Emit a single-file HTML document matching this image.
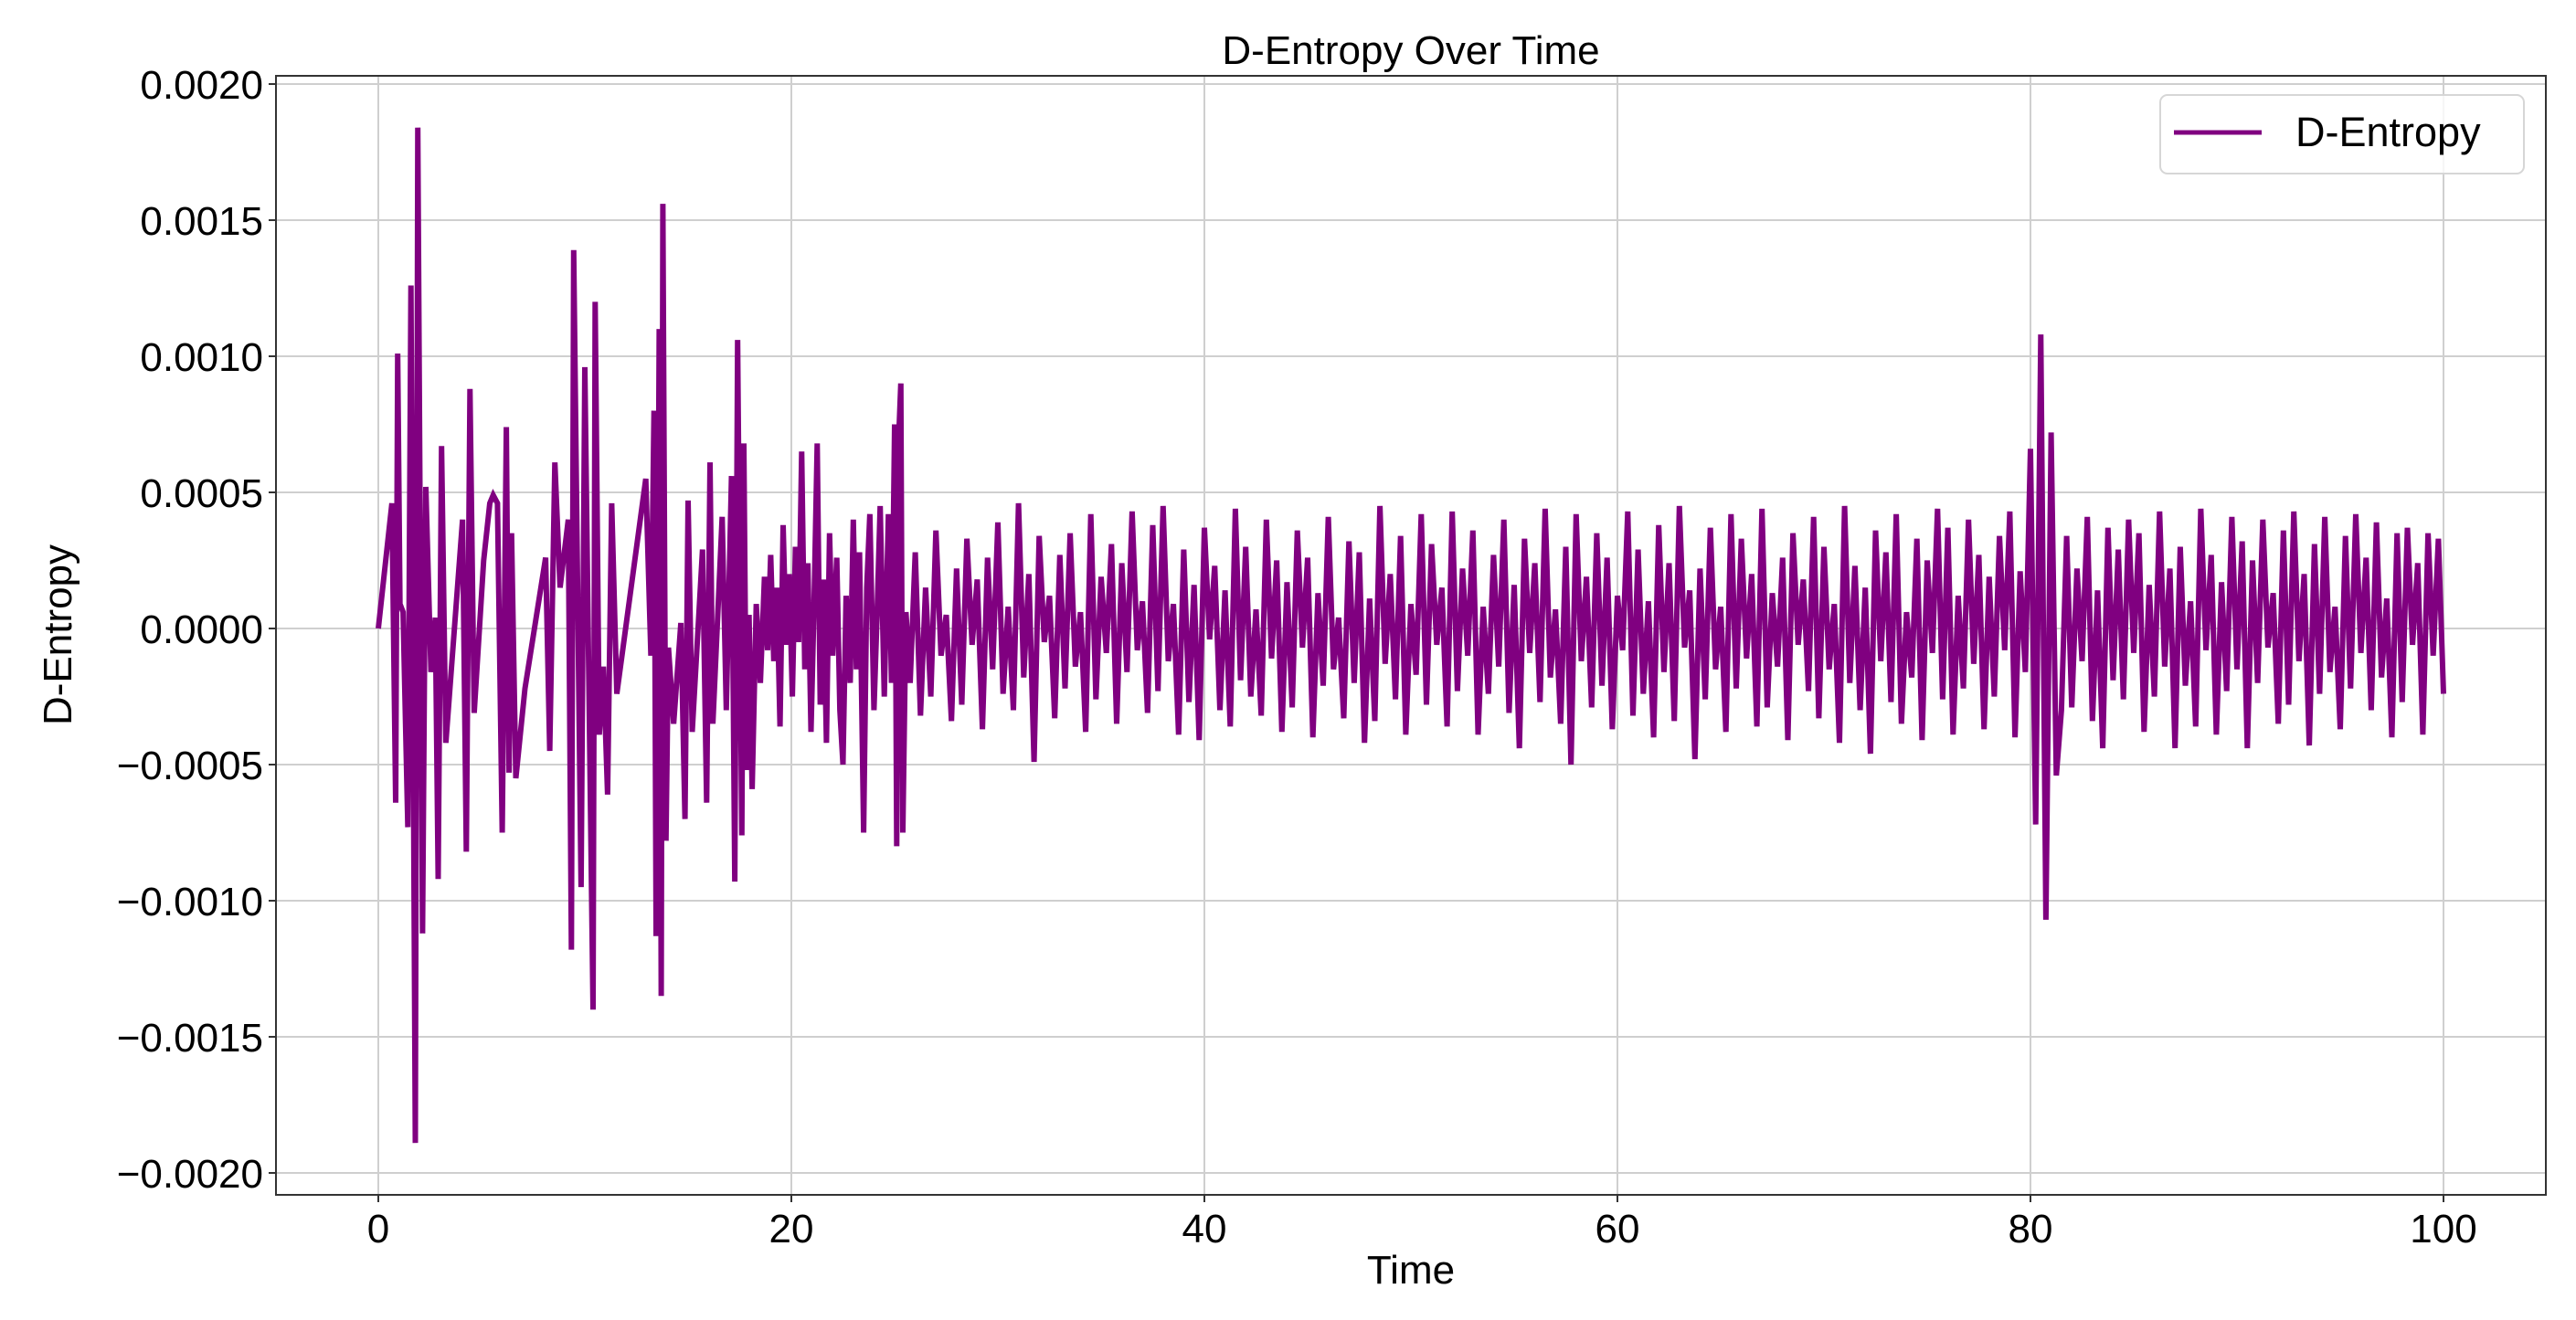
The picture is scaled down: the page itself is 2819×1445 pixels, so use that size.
<!DOCTYPE html>
<html><head><meta charset="utf-8"><style>
html,body{margin:0;padding:0;background:#fff}
svg text{font-family:"Liberation Sans",sans-serif;fill:#000}
</style></head><body>
<svg id="chart" width="2819" height="1440" viewBox="0 0 2819 1440" xmlns="http://www.w3.org/2000/svg">
<rect x="0" y="0" width="2819" height="1440" fill="#fff"/>
<g id="grid"></g>
<g id="series"></g>
<rect x="302" y="83" width="2484" height="1225" fill="none" stroke="#333" stroke-width="2"/>
<g id="ticks"></g>
<text x="1544" y="70" font-size="44" text-anchor="middle">D-Entropy Over Time</text>
<text x="1544" y="1405" font-size="44" text-anchor="middle">Time</text>
<text transform="translate(78,695) rotate(-90)" font-size="44" text-anchor="middle">D-Entropy</text>
<g>
<rect x="2364" y="104" width="398" height="86" rx="8" fill="#fff" fill-opacity="0.8" stroke="#d6d6d6" stroke-width="2"/>
<line x1="2379" y1="145" x2="2475" y2="145" stroke="#800080" stroke-width="5"/>
<text x="2512" y="160" font-size="45">D-Entropy</text>
</g>
</svg>
<script>
const xTicks=[0,20,40,60,80,100];
const yTicks=[-20,-15,-10,-5,0,5,10,15,20];
const yTickLabels=["\u22120.0020","\u22120.0015","\u22120.0010","\u22120.0005","0.0000","0.0005","0.0010","0.0015","0.0020"];
const earlyTimes=[0,0.66,0.84,0.94,1.05,1.2,1.43,1.58,1.79,1.91,2.14,2.3,2.55,2.76,2.9,3.06,3.27,4.08,4.26,4.44,4.64,5.1,5.4,5.56,5.77,6.0,6.2,6.33,6.45,6.66,7.1,8.1,8.3,8.55,8.8,9.2,9.35,9.46,9.82,10.0,10.4,10.5,10.7,10.9,11.1,11.3,11.55,12.95,13.2,13.35,13.45,13.6,13.7,13.78,13.93,14.05,14.3,14.65,14.85,15.0,15.2,15.7,15.9,16.06,16.2,16.65,16.85,17.1,17.26,17.4,17.6,17.7,17.83,17.95,18.1,18.3,18.5,18.7,18.85,19.0,19.15,19.3,19.45,19.6,19.75,19.9,20.05,20.2,20.35,20.5,20.65,20.8,20.95,21.1,21.25,21.4,21.55,21.7,21.85,22.0,22.2,22.35,22.5,22.65,22.85,23.0,23.15,23.3,23.5,23.65,23.8,24.0,24.15,24.3,24.5,24.7,24.85,25.0,25.1,25.2,25.3,25.4,25.55,25.75];
const earlyValues=[0,4.6,-6.4,10.1,0.9,0.6,-7.3,12.6,-18.9,18.4,-11.2,5.2,-1.6,0.4,-9.2,6.7,-4.2,4.0,-8.2,8.8,-3.1,2.5,4.6,4.9,4.6,-7.5,7.4,-5.3,3.5,-5.5,-2.2,2.6,-4.5,6.1,1.5,4.0,-11.8,13.9,-9.5,9.6,-14.0,12.0,-3.9,-1.4,-6.1,4.6,-2.4,5.5,-1.0,8.0,-11.3,11.0,-13.5,15.6,-7.8,-0.7,-3.5,0.2,-7.0,4.7,-3.8,2.9,-6.4,6.1,-3.5,4.1,-3.0,5.6,-9.3,10.6,-7.6,6.8,-5.2,0.5,-5.9,0.9,-2.0,1.9,-0.8,2.7,-1.2,1.5,-3.6,3.8,-0.6,2.0,-2.5,3.0,-0.5,6.5,-1.5,2.4,-3.8,1.0,6.8,-2.8,1.8,-4.2,3.5,-1.0,2.6,-3.0,-5.0,1.2,-2.0,4.0,-1.5,2.8,-7.5,1.5,4.2,-3.0,0.5,4.5,-2.5,4.2,-2.0,7.5,-8.0,7.0,9.0,-7.5,0.6,-2.0];
const lateStart=26, lateStep=0.25;
const lateValues=[
2.8,-3.2,1.5,-2.5, 3.6,-1.0,0.5,-3.4, 2.2,-2.8,3.3,-0.6, 1.8,-3.7,2.6,-1.5,
3.9,-2.4,0.8,-3.0, 4.6,-1.8,2.0,-4.9, 3.4,-0.5,1.2,-3.3, 2.7,-2.2,3.5,-1.4,
0.6,-3.8,4.2,-2.6, 1.9,-0.9,3.1,-3.5, 2.4,-1.6,4.3,-0.8, 1.0,-3.1,3.8,-2.3,
4.5,-1.2,0.9,-3.9, 2.9,-2.7,1.6,-4.1, 3.7,-0.4,2.3,-3.0, 1.4,-3.6,4.4,-1.9,
3.0,-2.5,0.7,-3.2, 4.0,-1.1,2.5,-3.8, 1.7,-2.9,3.6,-0.7, 2.6,-4.0,1.3,-2.1,
4.1,-1.5,0.4,-3.3, 3.2,-2.0,2.8,-4.2, 1.1,-3.4,4.5,-1.3, 2.0,-2.6,3.4,-3.9,
0.9,-1.7,4.2,-2.8, 3.1,-0.6,1.5,-3.6, 4.3,-2.3,2.2,-1.0, 3.6,-3.9,0.8,-2.4,
2.7,-1.4,4.0,-3.1, 1.6,-4.4,3.3,-0.9, 2.4,-2.7,4.4,-1.8, 0.7,-3.5,3.0,-5.0,
4.2,-1.2,1.9,-2.9, 3.5,-2.1,2.6,-3.7, 1.2,-0.8,4.3,-3.2, 2.9,-2.4,1.0,-4.0,
3.8,-1.6,2.4,-3.4, 4.5,-0.7,1.4,-4.8, 2.2,-2.6,3.7,-1.5, 0.8,-3.8,4.2,-2.2,
3.3,-1.1,2.0,-3.6, 4.4,-2.9,1.3,-1.4, 2.6,-4.1,3.5,-0.6, 1.8,-2.3,4.1,-3.3,
3.0,-1.5,0.9,-4.2, 4.5,-2.0,2.3,-3.0, 1.5,-4.6,3.6,-1.2, 2.8,-2.7,4.2,-3.5,
0.6,-1.8,3.3,-4.1, 2.5,-0.9,4.4,-2.6, 3.7,-3.9,1.2,-2.2, 4.0,-1.3,2.7,-3.7,
1.9,-2.5,3.4,-0.8, 4.3,-4.0,2.1,-1.6, 6.6,-7.2,10.8,-10.7, 7.2,-5.4,-3.0,3.4,
-2.9,2.2,-1.2,4.1, -3.4,1.4,-4.4,3.7, -1.9,2.9,-2.6,4.0, -0.9,3.5,-3.8,1.6,
-2.5,4.3,-1.4,2.2, -4.4,3.0,-2.1,1.0, -3.6,4.4,-0.8,2.7, -3.9,1.7,-2.3,4.1,
-1.5,3.2,-4.4,2.5, -2.0,4.0,-0.7,1.3, -3.5,3.6,-2.8,4.3, -1.2,2.0,-4.3,3.1,
-2.4,4.1,-1.6,0.8, -3.7,3.4,-2.2,4.2, -0.9,2.6,-3.0,3.9, -1.8,1.1,-4.0,3.5,
-2.7,3.7,-0.6,2.4, -3.9,3.5,-1.0,3.3, -2.4];

const NS='http://www.w3.org/2000/svg';
const L=302,R=2786,T=83,B=1308;
function xs(t){return 414+t*22.6;}
function ys(v){return 688-v*29.8;} // v in 1e-4 units
const grid=document.getElementById('grid'), ticks=document.getElementById('ticks');
xTicks.forEach(t=>{
  const l=document.createElementNS(NS,'line');
  
  
  l.setAttribute('x1',xs(t));l.setAttribute('x2',xs(t));l.setAttribute('y1',T);l.setAttribute('y2',B);
  l.setAttribute('stroke','#cfcfcf');l.setAttribute('stroke-width','2');grid.appendChild(l);
  const k=document.createElementNS(NS,'line');
  
  
  k.setAttribute('x1',xs(t));k.setAttribute('x2',xs(t));k.setAttribute('y1',B);k.setAttribute('y2',B+8);
  k.setAttribute('stroke','#333');k.setAttribute('stroke-width','2');ticks.appendChild(k);
  const tx=document.createElementNS(NS,'text');
  
  
  tx.setAttribute('x',xs(t));tx.setAttribute('y',B+52);tx.setAttribute('font-size','44');tx.setAttribute('text-anchor','middle');
  tx.textContent=String(t);ticks.appendChild(tx);
});
yTicks.forEach((v,i)=>{
  const l=document.createElementNS(NS,'line');
  
  
  l.setAttribute('x1',L);l.setAttribute('x2',R);l.setAttribute('y1',ys(v));l.setAttribute('y2',ys(v));
  l.setAttribute('stroke','#cfcfcf');l.setAttribute('stroke-width','2');grid.appendChild(l);
  const k=document.createElementNS(NS,'line');
  
  
  k.setAttribute('x1',L-8);k.setAttribute('x2',L);k.setAttribute('y1',ys(v));k.setAttribute('y2',ys(v));
  k.setAttribute('stroke','#333');k.setAttribute('stroke-width','2');ticks.appendChild(k);
  const tx=document.createElementNS(NS,'text');
  
  
  tx.setAttribute('x',L-14);tx.setAttribute('y',ys(v)+16);tx.setAttribute('font-size','44');tx.setAttribute('text-anchor','end');
  tx.textContent=yTickLabels[i];ticks.appendChild(tx);
});
const pts=[];
earlyTimes.forEach((t,i)=>pts.push(xs(t).toFixed(1)+','+ys(earlyValues[i]).toFixed(1)));
lateValues.forEach((v,i)=>pts.push(xs(lateStart+i*lateStep).toFixed(1)+','+ys(v).toFixed(1)));
const pl=document.createElementNS(NS,'polyline');


pl.setAttribute('points',pts.join(' '));
pl.setAttribute('fill','none');pl.setAttribute('stroke','#800080');pl.setAttribute('stroke-width','6');pl.setAttribute('stroke-linejoin','miter');
document.getElementById('series').appendChild(pl);
</script>
</body></html>
